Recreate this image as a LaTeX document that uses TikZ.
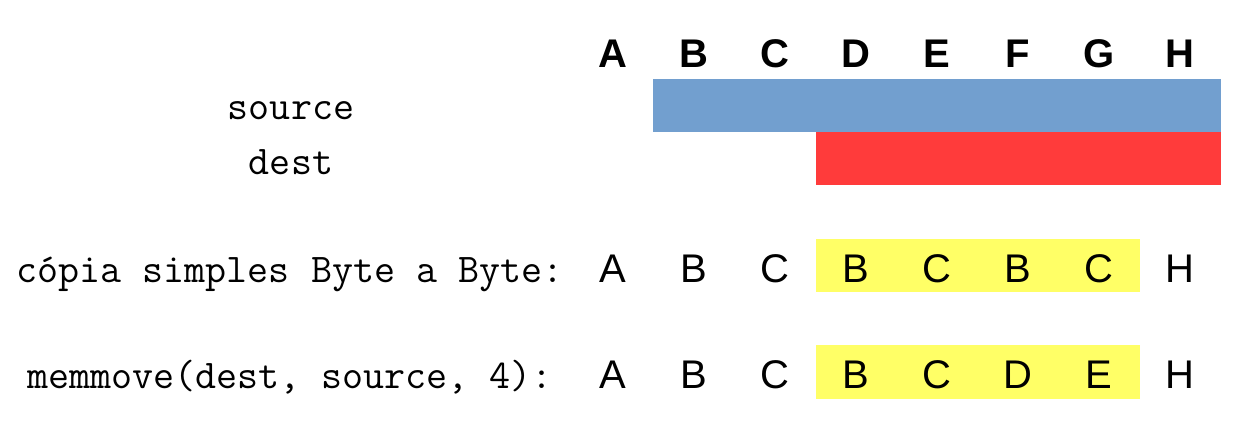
\documentclass[tikz,border=0pt]{standalone}
\usepackage{fontspec}
\setmainfont{Liberation Sans}
\usepackage{tikz}
\usetikzlibrary{positioning}
\definecolor{srcblue}{RGB}{114,159,207}
\definecolor{dstred}{RGB}{255,59,59}
\definecolor{hiyellow}{RGB}{255,255,102}
\begin{document}
\begin{tikzpicture}[x=0.5pt,y=-0.5pt,
  col/.style = {anchor=base, inner sep=0pt, font=\fontsize{20}{24}\selectfont},
  head/.style = {col, font=\fontsize{20}{24}\selectfont\bfseries},
  lbl/.style = {anchor=base, inner sep=0pt, font=\ttfamily\fontsize{20.4}{24}\selectfont}]
        \useasboundingbox (0,0) rectangle (1246,426);
        % bars and highlights
        \fill[srcblue] (653,79) rectangle (1221,132);
        \fill[dstred] (816,132) rectangle (1221,185);
        \fill[hiyellow] (816,239) rectangle (1140,292);
        \fill[hiyellow] (816,345) rectangle (1140,399);
        % column headers
        \foreach \l [count=\i from 0] in {A,B,C,D,E,F,G,H}
          \node[head] (h\l) at (613+81*\i,67.5) {\l};
        % labels
        \node[lbl] (src) at (291,120) {source};
        \node[lbl] (dst) at (291,175) {dest};
        \node[lbl] (copy) at (290,282.5) {cópia simples Byte a Byte:};
        \node[lbl] (move) at (290,388.5) {memmove(dest, source, 4):};
        % rows
        \foreach \l [count=\i from 0] in {A,B,C,B,C,B,C,H}
          \node[col] (c\i) at (613+81*\i,282.5) {\l};
        \foreach \l [count=\i from 0] in {A,B,C,B,C,D,E,H}
          \node[col] (m\i) at (613+81*\i,388.5) {\l};
      \end{tikzpicture}
\end{document}
